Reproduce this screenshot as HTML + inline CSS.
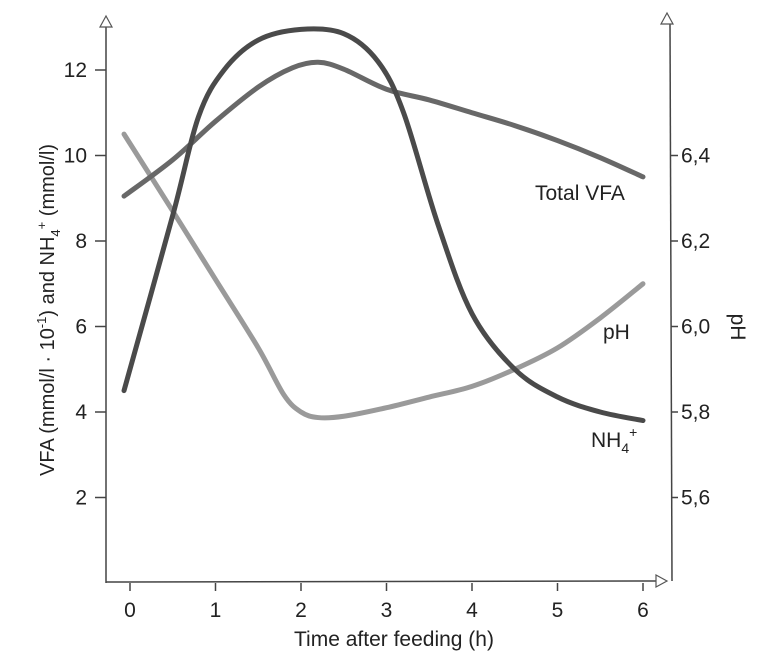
<!DOCTYPE html>
<html><head><meta charset="utf-8"><style>
body{margin:0;background:#fff;}
svg{display:block;font-family:"Liberation Sans",sans-serif;}
</style></head><body>
<svg id="chart" width="763" height="665" viewBox="0 0 763 665">
<g id="axes"></g>
<g id="series"></g>
<g id="labels"></g>
</svg>
<script>
const xTicks=[0,1,2,3,4,5,6];
const yTicks=[2,4,6,8,10,12];
const pHTicks=["5,6","5,8","6,0","6,2","6,4"];
const pHTickVals=[5.6,5.8,6.0,6.2,6.4];
const vfaT=[-0.07,0.5,1,1.5,1.9,2.2,2.5,3,3.5,4,4.5,5,5.5,6];
const vfaV=[9.05,9.9,10.8,11.6,12.05,12.18,12.02,11.55,11.3,11.0,10.7,10.35,9.95,9.5];
const nh4T=[-0.07,0.5,0.8,1.1,1.5,2,2.5,2.9,3.2,3.6,4,4.5,5,5.5,6];
const nh4V=[4.5,8.6,10.9,12.0,12.7,12.95,12.85,12.2,11.0,8.4,6.3,5.0,4.35,4.0,3.8];
const phT=[-0.07,0.5,1,1.5,1.8,2,2.2,2.5,3,3.5,4,4.5,5,5.5,6];
const phV=[6.45,6.27,6.11,5.95,5.84,5.8,5.787,5.79,5.81,5.835,5.86,5.9,5.95,6.02,6.1];

const X=t=>130+t*85.5;
const Y=v=>583-v*42.75;
const YpH=p=>Y(6+(p-6)*10);
const NS="http://www.w3.org/2000/svg";
function mk(tag,attrs,parent){const e=document.createElementNS(NS,tag);for(const k in attrs)e.setAttribute(k,attrs[k]);parent.appendChild(e);return e;}
const axes=document.getElementById('axes'),ser=document.getElementById('series'),lab=document.getElementById('labels');
const ax={stroke:"#444","stroke-width":1.5,fill:"none"};
let e;
e=mk('line',Object.assign({x1:106,y1:27,x2:106,y2:583},ax),axes);

e=mk('path',{d:"M106,16 L100,27 L112,27 Z",fill:"#fff",stroke:"#555","stroke-width":1.2},axes);

e=mk('line',Object.assign({x1:670,y1:24,x2:672,y2:581},ax),axes);

e=mk('path',{d:"M667,13 L661,24 L673,24 Z",fill:"#fff",stroke:"#555","stroke-width":1.2},axes);

e=mk('line',Object.assign({x1:106,y1:582,x2:656,y2:581},ax),axes);

e=mk('path',{d:"M667,581 L656,575 L656,587 Z",fill:"#fff",stroke:"#555","stroke-width":1.2},axes);

xTicks.forEach(t=>{
 e=mk('line',{x1:X(t),y1:583,x2:X(t),y2:591,stroke:"#444","stroke-width":1.5},axes);
 
 e=mk('text',{x:X(t),y:617,"text-anchor":"middle","font-size":21,fill:"#222"},lab);e.textContent=t;
 
});
yTicks.forEach(v=>{
 e=mk('line',{x1:95,y1:Y(v),x2:106,y2:Y(v),stroke:"#444","stroke-width":1.5},axes);
 
 e=mk('text',{x:87,y:Y(v)+7,"text-anchor":"end","font-size":21,fill:"#222"},lab);e.textContent=v;
 
});
pHTickVals.forEach((p,i)=>{
 e=mk('line',{x1:671,y1:YpH(p),x2:678,y2:YpH(p),stroke:"#444","stroke-width":1.5},axes);
 
 e=mk('text',{x:681,y:YpH(p)+7,"font-size":21,fill:"#222"},lab);e.textContent=pHTicks[i];
 
});
function smooth(pts){let d=`M${pts[0][0]},${pts[0][1]}`;
 for(let i=0;i<pts.length-1;i++){const p0=pts[i-1]||pts[i],p1=pts[i],p2=pts[i+1],p3=pts[i+2]||p2;
 d+=` C${p1[0]+(p2[0]-p0[0])/6},${p1[1]+(p2[1]-p0[1])/6} ${p2[0]-(p3[0]-p1[0])/6},${p2[1]-(p3[1]-p1[1])/6} ${p2[0]},${p2[1]}`;}
 return d;}
e=mk('path',{d:smooth(phT.map((t,i)=>[X(t),YpH(phV[i])])),stroke:"#9a9a9a","stroke-width":5,fill:"none","stroke-linecap":"round"},ser);

e=mk('path',{d:smooth(vfaT.map((t,i)=>[X(t),Y(vfaV[i])])),stroke:"#686868","stroke-width":5,fill:"none","stroke-linecap":"round"},ser);

e=mk('path',{d:smooth(nh4T.map((t,i)=>[X(t),Y(nh4V[i])])),stroke:"#4a4a4a","stroke-width":5,fill:"none","stroke-linecap":"round"},ser);

</script>
<svg style="position:absolute;left:0;top:0" width="763" height="665">
<text x="535" y="200" font-size="21" fill="#222" font-family="Liberation Sans, sans-serif">Total VFA</text>
<text x="603" y="339" font-size="21" fill="#222" font-family="Liberation Sans, sans-serif">pH</text>
<text x="591" y="447" font-size="21" fill="#222" font-family="Liberation Sans, sans-serif">NH<tspan font-size="14" dy="6">4</tspan><tspan font-size="14" dy="-16">+</tspan></text>
<text x="394" y="646" text-anchor="middle" font-size="21" fill="#222" font-family="Liberation Sans, sans-serif">Time after feeding (h)</text>
<text transform="translate(54,310) rotate(-90)" text-anchor="middle" font-size="20" fill="#222" font-family="Liberation Sans, sans-serif">VFA (mmol/l · 10<tspan font-size="13" dy="-8">-1</tspan><tspan dy="8">) and NH</tspan><tspan font-size="13" dy="6">4</tspan><tspan font-size="13" dy="-14">+</tspan><tspan dy="8"> (mmol/l)</tspan></text>
<text transform="translate(731,327) rotate(90)" text-anchor="middle" font-size="21" fill="#222" font-family="Liberation Sans, sans-serif">pH</text>
</svg>
</body></html>
